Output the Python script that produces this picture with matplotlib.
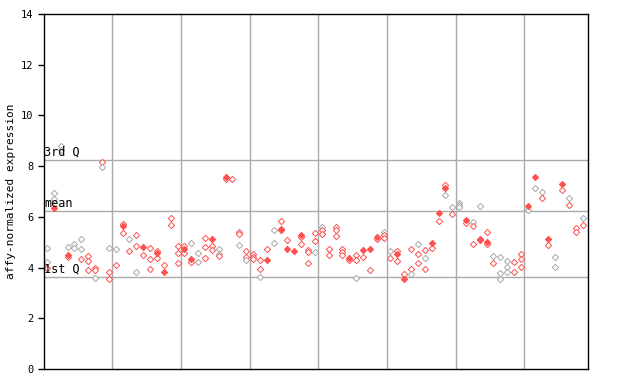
import matplotlib
matplotlib.use("Agg")
import matplotlib.pyplot as plt

# expression values per sample (79 samples, 8 groups)
values = [
    [4.77, 4.22, 3.98], [6.94, 6.70, 6.35], [8.80, 8.65], [4.81, 4.50, 4.42],
    [4.93, 4.77], [5.13, 4.73, 4.34], [4.46, 4.26, 3.90], [3.98, 3.90, 3.59],
    [8.16, 7.97], [4.77, 3.82, 3.55],
    [4.73, 4.10], [5.72, 5.64, 5.36], [5.13, 4.65], [5.28, 4.85, 3.82],
    [4.81, 4.50], [4.77, 4.34, 3.94], [4.65, 4.57, 4.38], [4.10, 3.82],
    [5.95, 5.68], [4.85, 4.57, 4.18],
    [4.85, 4.73, 4.57], [4.97, 4.34, 4.22], [4.57, 4.22], [5.17, 4.81, 4.38],
    [5.13, 4.85, 4.69], [4.73, 4.53, 4.45], [7.57, 7.49], [7.49],
    [5.40, 5.32, 4.89], [4.65, 4.42, 4.30],
    [4.53, 4.42, 4.34], [4.30, 3.94, 3.63], [4.73, 4.30], [5.48, 4.97, 4.77],
    [5.84, 5.52, 5.48], [5.09, 4.73], [4.65], [5.28, 5.20, 4.93],
    [4.69, 4.61, 4.18], [5.36, 5.05, 4.61],
    [5.60, 5.48, 5.32], [4.73, 4.50], [5.60, 5.48, 5.24], [4.73, 4.61, 4.50],
    [4.38, 4.30], [4.50, 4.30, 3.59], [4.69, 4.42], [4.73, 3.90],
    [5.20, 5.13], [5.40, 5.28, 5.17],
    [4.65, 4.38], [4.65, 4.53, 4.26], [3.75, 3.55], [4.73, 3.94, 3.75],
    [4.93, 4.53, 4.18], [4.69, 4.38, 3.94], [4.97, 4.77], [6.15, 5.84],
    [7.26, 7.14, 6.86], [6.39, 6.11],
    [6.55, 6.47, 6.39], [5.88, 5.76], [5.80, 5.64, 4.93], [6.43, 5.13, 5.09],
    [5.40, 5.01, 4.93], [4.46, 4.18], [4.42, 3.79, 3.55], [4.26, 4.02, 3.82],
    [4.22, 3.82], [4.53, 4.34, 4.02],
    [6.43, 6.27], [7.57, 7.14], [6.98, 6.74], [5.13, 4.89], [4.42, 4.02],
    [7.30, 7.06], [6.74, 6.47], [5.56, 5.40], [5.95, 5.68],
]
# marker kind per value: g = gray, r = red, f = filled red
kinds = [
    "ggr", "ggf", "gg", "gfr", "gg", "ggr", "rrr", "rrg", "rg", "grr",
    "gr", "rfr", "gr", "rrg", "fr", "rrr", "rfr", "rf", "rr", "rrr",
    "rfr", "gfr", "gg", "rrr", "frr", "ggr", "fr", "r", "rrg", "rrg",
    "rrr", "rrg", "rf", "gg", "rfr", "rf", "f", "frr", "rrr", "rrg",
    "grr", "rr", "rrr", "rrr", "fr", "rrg", "fr", "fr", "fr", "grr",
    "gr", "rfr", "rf", "rrg", "grr", "rgr", "fr", "fr", "rfg", "gr",
    "ggg", "fr", "grr", "gfr", "rfr", "gr", "ggg", "ggg", "rr", "rrr",
    "fg", "fg", "gr", "fr", "gg", "fr", "gr", "rr", "gr",
]
quartile_1 = 3.63
mean_val = 6.23
quartile_3 = 8.24
group_edges = [9.5, 19.5, 29.5, 39.5, 49.5, 59.5, 69.5]

red = "#ff5050"
gray = "#a8a8a8"
font = "DejaVu Sans Mono"

fig = plt.figure(figsize=(6.4, 3.84), dpi=100)
ax = fig.add_axes([44 / 640, 15 / 384, 544 / 640, 355 / 384])

for xg in group_edges:
    ax.axvline(xg, color="#aaaaaa", lw=1, zorder=1)
for yq in (quartile_1, mean_val, quartile_3):
    ax.axhline(yq, color="#aaaaaa", lw=1, zorder=1)

for i, (vals, ks) in enumerate(zip(values, kinds)):
    for v, k in zip(vals, ks):
        if k == "f":
            ax.plot(i, v, "D", ms=3.2, mfc=red, mec=red, mew=0.7, zorder=3)
        else:
            c = red if k == "r" else gray
            ax.plot(i, v, "D", ms=3.2, mfc="white", mec=c, mew=0.7, zorder=2)

ax.text(-0.4, quartile_3 + 0.05, "3rd Q", fontsize=8.5, family=font, va="bottom")
ax.text(-0.4, mean_val + 0.05, "mean", fontsize=8.5, family=font, va="bottom")
ax.text(-0.4, quartile_1 + 0.05, "1st Q", fontsize=8.5, family=font, va="bottom")

ax.set_xlim(-0.44, 78.76)
ax.set_ylim(0, 14)
ax.set_yticks(range(0, 15, 2))
ax.set_yticklabels([str(t) for t in range(0, 15, 2)], family=font, fontsize=7.5)
ax.set_xticks([])
ax.set_yticks([4, 6, 8], minor=True)
ax.tick_params(axis="y", which="major", direction="out", length=4, width=1)
ax.tick_params(axis="y", which="minor", direction="in", length=5, width=1,
               left=True, right=True)
ax.set_ylabel("affy-normalized expression", family=font, fontsize=8)
for s in ax.spines.values():
    s.set_color("black")
    s.set_linewidth(1)

fig.savefig("out.png", dpi=100)
